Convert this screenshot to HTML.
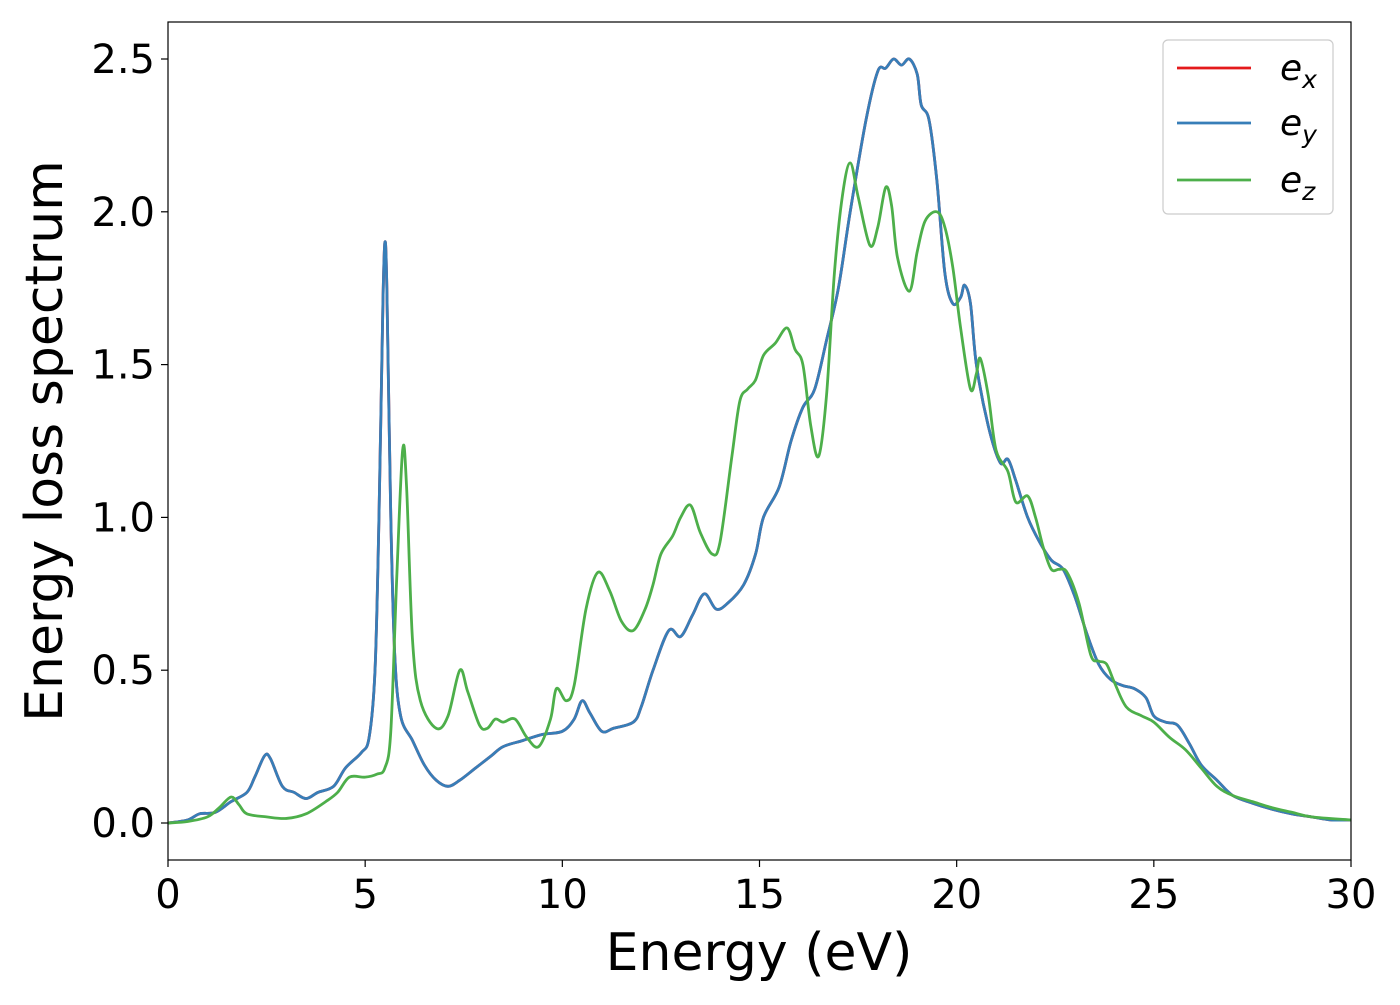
<!DOCTYPE html>
<html><head><meta charset="utf-8"><style>
body{margin:0;background:#fff;width:1400px;height:1000px;overflow:hidden}
svg{font-family:"DejaVu Sans","Liberation Sans",sans-serif}
</style></head><body>
<svg id="chart" width="1400" height="1000" xmlns="http://www.w3.org/2000/svg">
<g id="plot"></g>
</svg>
<script>
const xTicks=[0,5,10,15,20,25,30];
const yTicks=[0.0,0.5,1.0,1.5,2.0,2.5];
const yTickLabels=["0.0","0.5","1.0","1.5","2.0","2.5"];
const exyX=[0,0.5,0.8,1.2,1.6,2.0,2.2,2.45,2.6,2.9,3.2,3.5,3.8,4.2,4.5,4.9,5.1,5.25,5.35,5.45,5.5,5.55,5.65,5.75,5.9,6.2,6.5,6.8,7.1,7.4,7.8,8.2,8.5,9.0,9.5,10.0,10.3,10.5,10.7,11.0,11.3,11.8,12.0,12.3,12.7,13.0,13.3,13.6,13.9,14.2,14.6,14.9,15.1,15.5,15.8,16.1,16.4,16.7,17.0,17.3,17.7,18.0,18.2,18.4,18.6,18.8,19.0,19.1,19.3,19.5,19.7,19.9,20.1,20.2,20.35,20.5,20.8,21.1,21.3,21.5,21.8,22.1,22.4,22.7,23.0,23.3,23.6,23.9,24.2,24.5,24.8,25.0,25.3,25.6,25.9,26.2,26.6,27,27.5,28,28.5,29,29.5,30];
const exyY=[0,0.01,0.03,0.035,0.07,0.1,0.15,0.22,0.21,0.12,0.1,0.08,0.1,0.12,0.18,0.23,0.28,0.5,1.0,1.7,1.9,1.75,1.0,0.55,0.35,0.27,0.19,0.14,0.12,0.14,0.18,0.22,0.25,0.27,0.29,0.3,0.34,0.4,0.36,0.3,0.31,0.33,0.38,0.5,0.63,0.61,0.68,0.75,0.7,0.72,0.78,0.88,1.0,1.1,1.25,1.36,1.42,1.58,1.75,2.0,2.3,2.46,2.47,2.5,2.48,2.5,2.45,2.35,2.3,2.1,1.8,1.7,1.72,1.76,1.7,1.5,1.3,1.18,1.19,1.12,1.0,0.92,0.86,0.83,0.74,0.62,0.52,0.47,0.45,0.44,0.41,0.35,0.33,0.32,0.26,0.19,0.14,0.09,0.065,0.045,0.03,0.02,0.01,0.01];
const ezX=[0,0.5,1.0,1.3,1.6,1.8,2.0,2.5,3.0,3.5,4.0,4.3,4.6,5.0,5.3,5.5,5.65,5.8,5.95,6.05,6.2,6.4,6.8,7.1,7.4,7.6,7.9,8.1,8.3,8.5,8.8,9.1,9.4,9.7,9.85,10.1,10.3,10.6,10.9,11.2,11.5,11.8,12.1,12.3,12.5,12.8,13.0,13.25,13.5,13.8,14.0,14.3,14.5,14.7,14.9,15.1,15.4,15.7,15.9,16.1,16.3,16.5,16.7,16.9,17.1,17.3,17.5,17.8,18.0,18.2,18.35,18.5,18.8,19.0,19.2,19.5,19.7,19.9,20.1,20.35,20.5,20.6,20.8,21.0,21.3,21.5,21.8,22.0,22.2,22.4,22.6,22.8,23.1,23.4,23.6,23.8,24.0,24.3,24.7,25.0,25.4,25.8,26.2,26.6,27,27.5,28,28.5,29,30];
const ezY=[0,0.005,0.02,0.05,0.085,0.06,0.03,0.02,0.015,0.03,0.07,0.1,0.15,0.15,0.16,0.18,0.3,0.8,1.22,1.1,0.6,0.4,0.31,0.35,0.5,0.43,0.32,0.31,0.34,0.33,0.34,0.28,0.25,0.34,0.44,0.4,0.45,0.7,0.82,0.76,0.66,0.63,0.7,0.78,0.88,0.94,1.0,1.04,0.95,0.88,0.92,1.2,1.38,1.42,1.45,1.53,1.57,1.62,1.55,1.5,1.3,1.2,1.4,1.8,2.05,2.16,2.05,1.89,1.95,2.08,2.02,1.85,1.74,1.87,1.97,2.0,1.95,1.82,1.62,1.42,1.47,1.52,1.4,1.22,1.15,1.05,1.07,1.0,0.9,0.83,0.83,0.82,0.72,0.55,0.53,0.52,0.46,0.38,0.35,0.33,0.28,0.24,0.18,0.12,0.09,0.07,0.05,0.035,0.02,0.01];

const L=168,R=1351,T=22,B=860,X0=0,X1=30,Y0=0,Y1=2.5,Y0px=823,Y1px=59;
const sx=v=>L+(v-X0)/(X1-X0)*(R-L);
const sy=v=>Y0px+(v-Y0)/(Y1-Y0)*(Y1px-Y0px);
const NS="http://www.w3.org/2000/svg";
const g=document.getElementById('plot');
function mk(tag,attrs,parent){const e=document.createElementNS(NS,tag);for(const k in attrs)e.setAttribute(k,attrs[k]);(parent||g).appendChild(e);return e;}
function pathD(xs,ys){
  const p=xs.map((x,i)=>[sx(x),sy(ys[i])]);
  let d='M'+p[0][0].toFixed(2)+','+p[0][1].toFixed(2);
  for(let i=0;i<p.length-1;i++){
    const p0=p[Math.max(i-1,0)],p1=p[i],p2=p[i+1],p3=p[Math.min(i+2,p.length-1)];
    const c1=[p1[0]+(p2[0]-p0[0])/6,p1[1]+(p2[1]-p0[1])/6];
    const c2=[p2[0]-(p3[0]-p1[0])/6,p2[1]-(p3[1]-p1[1])/6];
    d+=`C${c1[0].toFixed(2)},${c1[1].toFixed(2)} ${c2[0].toFixed(2)},${c2[1].toFixed(2)} ${p2[0].toFixed(2)},${p2[1].toFixed(2)}`;
  }
  return d;
}
const clip=mk('clipPath',{id:'clipA'});
mk('rect',{x:L,y:T,width:R-L,height:B-T},clip);
const lines=mk('g',{'clip-path':'url(#clipA)'});


const ex=mk('path',{d:pathD(exyX,exyY),fill:'none',stroke:'#e41a1c','stroke-width':2.8},lines);


const ey=mk('path',{d:pathD(exyX,exyY),fill:'none',stroke:'#377eb8','stroke-width':2.8},lines);


const ez=mk('path',{d:pathD(ezX,ezY),fill:'none',stroke:'#4daf4a','stroke-width':2.8},lines);


const frame=mk('rect',{x:L,y:T,width:R-L,height:B-T,fill:'none',stroke:'#000','stroke-width':1.2});


xTicks.forEach(v=>{
  const t=mk('line',{x1:sx(v),x2:sx(v),y1:B,y2:B+7,stroke:'#000','stroke-width':1.2});
  
  
  const l=mk('text',{x:sx(v),y:B+48,'text-anchor':'middle','font-size':40});
  
  
  l.textContent=String(v);
});
yTicks.forEach((v,i)=>{
  const t=mk('line',{x1:L-7,x2:L,y1:sy(v),y2:sy(v),stroke:'#000','stroke-width':1.2});
  
  
  const l=mk('text',{x:L-13,y:sy(v)+14,'text-anchor':'end','font-size':40});
  
  
  l.textContent=yTickLabels[i];
});
</script>
<svg style="position:absolute;left:0;top:0" width="1400" height="1000" xmlns="http://www.w3.org/2000/svg" font-family="DejaVu Sans, Liberation Sans, sans-serif">
<text x="759" y="970" text-anchor="middle" font-size="52">Energy (eV)</text>
<text transform="translate(62,441) rotate(-90)" text-anchor="middle" font-size="52">Energy loss spectrum</text>
<g>
<rect x="1163" y="40" width="170" height="174" rx="5" fill="#fff" fill-opacity="0.8" stroke="#ccc" stroke-width="1.2"/>
<g><line x1="1177" x2="1251" y1="68" y2="68" stroke="#e41a1c" stroke-width="2.8"/><text x="1280" y="80" font-size="36" font-style="italic">e<tspan font-size="25" dy="8">x</tspan></text></g>
<g><line x1="1177" x2="1251" y1="123" y2="123" stroke="#377eb8" stroke-width="2.8"/><text x="1280" y="135" font-size="36" font-style="italic">e<tspan font-size="25" dy="8">y</tspan></text></g>
<g><line x1="1177" x2="1251" y1="180" y2="180" stroke="#4daf4a" stroke-width="2.8"/><text x="1280" y="192" font-size="36" font-style="italic">e<tspan font-size="25" dy="8">z</tspan></text></g>
</g>
</svg>
</body></html>
